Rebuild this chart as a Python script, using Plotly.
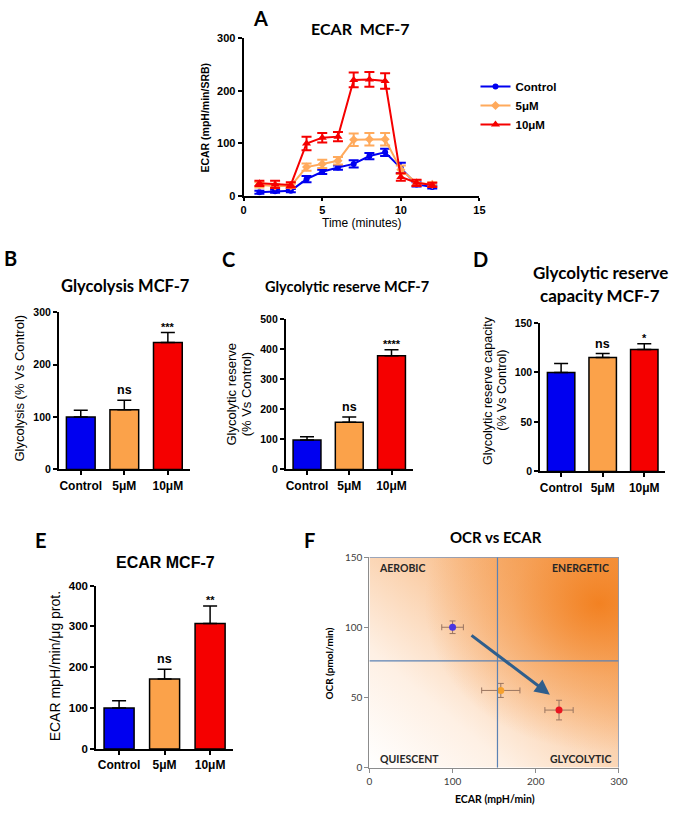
import base64
import plotly.graph_objects as go

W, H = 678, 813
OFF = 0  # body margin is removed via post_script, so pixel positions map 1:1

# ---------------- data ----------------
# Panel A: ECAR time course
time_min = [1, 2, 3, 4, 5, 6, 7, 8, 9, 10, 11, 12]
ecar_control = [7, 9, 10, 32, 46, 54, 61, 76, 83, 53, 22, 17]
ecar_control_err = [3, 3, 3, 6, 4, 4, 7, 6, 7, 10, 4, 3]
ecar_5um = [21, 19, 19, 55, 61, 67, 107, 108, 108, 50, 25, 22]
ecar_5um_err = [5, 4, 4, 7, 8, 7, 12, 12, 12, 8, 5, 4]
ecar_10um = [24, 22, 21, 100, 111, 113, 221, 222, 219, 36, 25, 21]
ecar_10um_err = [5, 7, 5, 13, 9, 9, 14, 14, 15, 7, 6, 4]

# Bar panels
groups = ["Control", "5μM", "10μM"]
glycolysis = [100, 114, 242]
glycolysis_err = [13, 18, 19]
glycolysis_sig = ["", "ns", "***"]
glyco_reserve = [98, 157, 378]
glyco_reserve_err = [11, 17, 20]
glyco_reserve_sig = ["", "ns", "****"]
reserve_capacity = [100, 115, 123]
reserve_capacity_err = [9, 4, 6]
reserve_capacity_sig = ["", "ns", "*"]
ecar_prot = [100, 171, 307]
ecar_prot_err = [18, 24, 43]
ecar_prot_sig = ["", "ns", "**"]

# Panel F: OCR vs ECAR
ecar_f = [100, 158, 228]
ecar_f_err = [13, 23, 17]
ocr_f = [100, 55, 41]
ocr_f_err = [4.5, 5, 7]
ecar_threshold = 154
ocr_threshold = 76
arrow_start = (121, 95)
arrow_end = (217, 52)
quadrant_labels = ["AEROBIC", "ENERGETIC", "QUIESCENT", "GLYCOLYTIC"]

# ---------------- styles ----------------
BLUE = "#0000F0"
ORANGE = "#FBA24A"
ORANGE_LINE = "#FFAA5C"
RED = "#F50000"
bar_colors = [BLUE, ORANGE, RED]
GP = "Liberation Sans"
CAL = "Lato"


def xd(a, b):
    return [(a - OFF) / W, (b - OFF) / W]


def yd(top, bottom):
    return [1 - (bottom - OFF) / H, 1 - (top - OFF) / H]


def gp_axis(size=10, **kw):
    d = dict(showline=True, linecolor="black", linewidth=2, ticks="outside",
             ticklen=4, tickwidth=2, tickcolor="black", showgrid=False,
             zeroline=False,
             tickfont=dict(family=GP, size=size, color="black", weight="bold"))
    d.update(kw)
    return d


fig = go.Figure()

# ---------------- Panel A ----------------
for name, ys, es, col, sym, ms in [
    ("Control", ecar_control, ecar_control_err, BLUE, "circle", 6),
    ("5μM", ecar_5um, ecar_5um_err, ORANGE_LINE, "diamond", 7),
    ("10μM", ecar_10um, ecar_10um_err, RED, "triangle-up", 8),
]:
    fig.add_trace(go.Scatter(
        x=time_min, y=ys, name=name, mode="lines+markers",
        line=dict(color=col, width=2),
        marker=dict(symbol=sym, size=ms, color=col),
        error_y=dict(type="data", array=es, color=col, thickness=2, width=5),
        xaxis="x", yaxis="y"))

# ---------------- bar panels ----------------
bar_panels = [
    ("2", glycolysis, glycolysis_err, glycolysis_sig),
    ("3", glyco_reserve, glyco_reserve_err, glyco_reserve_sig),
    ("4", reserve_capacity, reserve_capacity_err, reserve_capacity_sig),
    ("5", ecar_prot, ecar_prot_err, ecar_prot_sig),
]
annotations = []
for ax, vals, errs, sigs in bar_panels:
    fig.add_trace(go.Bar(
        x=groups, y=vals, width=0.66,
        marker=dict(color=bar_colors, line=dict(color="black", width=1.5)),
        error_y=dict(type="data", array=errs, arrayminus=[0, 0, 0],
                     color="black", thickness=1.5, width=7),
        showlegend=False, xaxis="x" + ax, yaxis="y" + ax))
    for g, v, e, s in zip(groups, vals, errs, sigs):
        if s:
            annotations.append(dict(
                x=g, y=v + e, xref="x" + ax, yref="y" + ax, text=s,
                showarrow=False, yanchor="bottom",
                yshift=1 if s == "ns" else -2,
                font=dict(family=GP, size=12.5 if s == "ns" else 11,
                          color="black", weight="bold")))

# ---------------- Panel F ----------------
f_colors = ["#4A36E0", "#F6A12E", "#EA1420"]
for i in range(3):
    fig.add_trace(go.Scatter(
        x=[ecar_f[i]], y=[ocr_f[i]], mode="markers", showlegend=False,
        marker=dict(size=7, color=f_colors[i]),
        error_x=dict(type="data", array=[ecar_f_err[i]], color="#9A7560",
                     thickness=1, width=3),
        error_y=dict(type="data", array=[ocr_f_err[i]], color="#9A7560",
                     thickness=1, width=3),
        xaxis="x6", yaxis="y6"))

svg = """<svg xmlns="http://www.w3.org/2000/svg" width="254" height="214" viewBox="0 0 254 214" preserveAspectRatio="none">
<defs>
<linearGradient id="lg" x1="0" y1="1" x2="1" y2="0">
<stop offset="0" stop-color="#ffffff"/>
<stop offset="0.28" stop-color="#fef0e4"/>
<stop offset="1" stop-color="#f59c4e"/>
</linearGradient>
<radialGradient id="rg" cx="0.92" cy="0.22" r="0.7">
<stop offset="0" stop-color="#f27f1e" stop-opacity="0.95"/>
<stop offset="0.5" stop-color="#f38a30" stop-opacity="0.45"/>
<stop offset="1" stop-color="#f28020" stop-opacity="0"/>
</radialGradient>
</defs>
<rect width="254" height="214" fill="url(#lg)"/>
<rect width="254" height="214" fill="url(#rg)"/>
</svg>"""
svg_uri = "data:image/svg+xml;base64," + base64.b64encode(svg.encode()).decode()

shapes = [
    dict(type="line", xref="x6", yref="y6", x0=ecar_threshold, x1=ecar_threshold,
         y0=0, y1=150, line=dict(color="#5B82B4", width=1.2)),
    dict(type="line", xref="x6", yref="y6", x0=0, x1=300,
         y0=ocr_threshold, y1=ocr_threshold, line=dict(color="#5B82B4", width=1.2)),
    dict(type="line", xref="x6", yref="y6", x0=0, x1=300, y0=150, y1=150,
         line=dict(color="#7B95BA", width=1.5)),
    dict(type="line", xref="x6", yref="y6", x0=300, x1=300, y0=0, y1=150,
         line=dict(color="#7B95BA", width=1.5)),
]

annotations.append(dict(
    x=arrow_end[0], y=arrow_end[1], ax=arrow_start[0], ay=arrow_start[1],
    xref="x6", yref="y6", axref="x6", ayref="y6", text="", showarrow=True,
    arrowhead=2, arrowsize=1, arrowwidth=3, arrowcolor="#2F5E8C"))

qfont = dict(family=CAL, size=10.5, color="#262626", weight="bold")
for txt, x, y, anc in [(quadrant_labels[0], 9, 142.5, "left"),
                       (quadrant_labels[1], 291, 142.5, "right"),
                       (quadrant_labels[2], 10, 6.5, "left"),
                       (quadrant_labels[3], 293, 6.5, "right")]:
    annotations.append(dict(x=x, y=y, xref="x6", yref="y6", text=txt,
                            showarrow=False, xanchor=anc, font=qfont))


def ptext(text, x, y, size, family, weight="bold", angle=0, color="black"):
    annotations.append(dict(
        x=(x - OFF) / W, y=1 - (y - OFF) / H, xref="paper", yref="paper",
        text=text, showarrow=False, xanchor="center", yanchor="middle",
        textangle=angle,
        font=dict(family=family, size=size, color=color, weight=weight)))


# panel letters
for L, x, y in [("A", 262, 11), ("B", 8, 255), ("C", 230, 256),
                ("D", 486, 256), ("E", 39, 542), ("F", 312, 542)]:
    ptext(L, x, y, 20, CAL)

# titles
ptext("ECAR  MCF-7", 364, 22, 16, CAL)
ptext("Glycolysis MCF-7", 125, 284, 16.5, CAL)
ptext("Glycolytic reserve MCF-7", 350, 284, 14.5, CAL)
ptext("Glycolytic reserve", 608, 270, 17, CAL)
ptext("capacity MCF-7", 608, 293, 17, CAL)
ptext("ECAR MCF-7", 165, 565, 16, GP)
ptext("OCR vs ECAR", 502, 539, 15, CAL)

# axis titles
ptext("ECAR (mpH/min/SRB)", 206, 112, 10.5, GP, angle=-90)
ptext("Time (minutes)", 365, 220, 12, GP, weight="normal")
ptext("Glycolysis (% Vs Control)", 17, 387, 13, GP, weight="normal", angle=-90)
ptext("Glycolytic reserve", 233, 393, 13, GP, weight="normal", angle=-90)
ptext("(% Vs Control)", 248, 393, 13, GP, weight="normal", angle=-90)
ptext("Glycolytic reserve capacity", 493, 390, 12.5, GP, weight="normal", angle=-90)
ptext("(% Vs Control)", 508, 390, 12.5, GP, weight="normal", angle=-90)
ptext("ECAR mpH/min/μg prot.", 53, 670, 14, GP, weight="normal", angle=-90)
ptext("OCR (pmol/min)", 332, 667, 10, CAL, angle=-90)
ptext("ECAR (mpH/min)", 501, 805, 10.5, CAL)

cat_axis = dict(type="category", range=[-0.5, 2.5])

fig.update_layout(
    width=W, height=H, autosize=False,
    margin=dict(l=0, r=0, t=0, b=0),
    paper_bgcolor="white", plot_bgcolor="rgba(0,0,0,0)",
    showlegend=True,
    legend=dict(x=(481 - OFF) / W, y=1 - (66 - OFF) / H, xanchor="left", yanchor="top",
                font=dict(family=GP, size=11.5, color="black", weight="bold"),
                bgcolor="rgba(0,0,0,0)", itemwidth=30, tracegroupgap=0),
    bargap=0.34,
    # A
    xaxis=gp_axis(11, domain=xd(245, 485), range=[0, 15], dtick=5, anchor="y",
                  ticklen=3),
    yaxis=gp_axis(11, domain=yd(32, 192), range=[0, 300], dtick=100, anchor="x"),
    # B
    xaxis2=gp_axis(12, domain=xd(57, 190), anchor="y2", **cat_axis),
    yaxis2=gp_axis(10.5, domain=yd(310, 470), range=[0, 300], dtick=100, anchor="x2"),
    # C
    xaxis3=gp_axis(12, domain=xd(288, 417), anchor="y3", **cat_axis),
    yaxis3=gp_axis(10.5, domain=yd(317, 470), range=[0, 500], dtick=100, anchor="x3"),
    # D
    xaxis4=gp_axis(12, domain=xd(547, 674), anchor="y4", **cat_axis),
    yaxis4=gp_axis(10.5, domain=yd(321, 472), range=[0, 150], dtick=50, anchor="x4"),
    # E
    xaxis5=gp_axis(12, domain=xd(95, 234), anchor="y5", **cat_axis),
    yaxis5=gp_axis(11.5, domain=yd(588, 754), range=[0, 400], dtick=100, anchor="x5"),
    # F
    xaxis6=dict(domain=xd(373, 627), range=[0, 300], dtick=100, anchor="y6",
                showline=True, linecolor="#8C8C8C", linewidth=1, ticks="outside",
                ticklen=4, tickcolor="#8C8C8C", showgrid=False, zeroline=False,
                tickfont=dict(family=CAL, size=10, color="#404040")),
    yaxis6=dict(domain=yd(559, 773), range=[0, 150], dtick=50, anchor="x6",
                showline=True, linecolor="#8C8C8C", linewidth=1, ticks="outside",
                ticklen=4, tickcolor="#8C8C8C", showgrid=False, zeroline=False,
                tickfont=dict(family=CAL, size=10, color="#404040")),
    images=[dict(source=svg_uri, xref="x6", yref="y6", x=0, y=150, sizex=300,
                 sizey=150, sizing="stretch", layer="below",
                 xanchor="left", yanchor="top")],
    shapes=shapes,
    annotations=annotations,
)

fig.write_html("out.html", config={"displayModeBar": False},
               post_script="document.body.style.margin='0px';")
